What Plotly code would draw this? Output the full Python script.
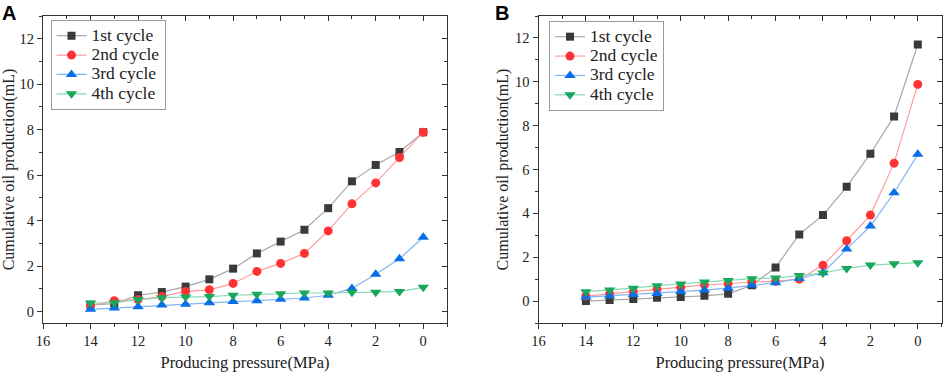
import plotly.graph_objects as go

pressure = [14, 13, 12, 11, 10, 9, 8, 7, 6, 5, 4, 3, 2, 1, 0]
series_names = ["1st cycle", "2nd cycle", "3rd cycle", "4th cycle"]

a_1st = [0.30, 0.35, 0.72, 0.86, 1.10, 1.42, 1.89, 2.56, 3.08, 3.60, 4.55, 5.73, 6.45, 7.02, 7.89]
a_2nd = [0.27, 0.48, 0.53, 0.66, 0.89, 0.96, 1.24, 1.77, 2.12, 2.56, 3.55, 4.74, 5.66, 6.78, 7.89]
a_3rd = [0.10, 0.16, 0.22, 0.29, 0.32, 0.39, 0.44, 0.48, 0.54, 0.60, 0.72, 1.02, 1.64, 2.32, 3.27]
a_4th = [0.38, 0.39, 0.53, 0.61, 0.64, 0.66, 0.72, 0.76, 0.79, 0.82, 0.82, 0.85, 0.85, 0.88, 1.07]

b_1st = [0.00, 0.05, 0.10, 0.15, 0.18, 0.24, 0.33, 0.72, 1.53, 3.04, 3.92, 5.21, 6.72, 8.42, 11.70]
b_2nd = [0.23, 0.33, 0.43, 0.55, 0.62, 0.74, 0.79, 0.87, 0.90, 1.00, 1.63, 2.75, 3.92, 6.29, 9.88]
b_3rd = [0.18, 0.24, 0.30, 0.35, 0.44, 0.50, 0.59, 0.73, 0.84, 1.03, 1.29, 2.37, 3.42, 4.94, 6.69]
b_4th = [0.43, 0.50, 0.59, 0.70, 0.78, 0.87, 0.94, 1.02, 1.05, 1.17, 1.28, 1.49, 1.64, 1.70, 1.75]

x_ticks = [16, 14, 12, 10, 8, 6, 4, 2, 0]
y_ticks = [0, 2, 4, 6, 8, 10, 12]

marker_colors = ["#3a3a3a", "#ff3333", "#0a6ee6", "#17a85c"]
line_colors = ["#a8a8a8", "#ff9d9d", "#80b4f0", "#86d9b4"]
symbols = ["square", "circle", "triangle-up", "triangle-down"]
sizes = [8, 9, 10, 10]

SERIF = "Liberation Serif, Times New Roman, serif"
AX = "#333333"

fig = go.Figure()

panels = [
    ([a_1st, a_2nd, a_3rd, a_4th], "x", "y", "legend"),
    ([b_1st, b_2nd, b_3rd, b_4th], "x2", "y2", "legend2"),
]
for data, xa, ya, lg in panels:
    for i, vals in enumerate(data):
        fig.add_trace(go.Scatter(
            x=pressure, y=vals,
            name="<span style='font-size:17.5px'>" + series_names[i] + "</span>",
            mode="lines+markers",
            line=dict(color=line_colors[i], width=1.2),
            marker=dict(symbol=symbols[i], size=sizes[i], color=marker_colors[i]),
            xaxis=xa, yaxis=ya, legend=lg,
        ))

# empty traces to host the mirrored (inside) tick axes
for xa, ya in [("x3", "y3"), ("x4", "y4")]:
    fig.add_trace(go.Scatter(x=[], y=[], xaxis=xa, yaxis=ya, showlegend=False, hoverinfo="skip"))

y_top = 1 - 16 / 372
y_bot = 1 - 323 / 372
domA = [43 / 943, 447 / 943]
domB = [538.5 / 943, 941.5 / 943]

def xax(dom, anchor):
    return dict(
        domain=dom, anchor=anchor, range=[16, -1], tickvals=x_ticks, automargin=False,
        ticks="outside", ticklen=5, tickwidth=1, tickcolor=AX,
        minor=dict(dtick=1, tick0=0, ticks="outside", ticklen=3, tickcolor=AX, tickwidth=1),
        showline=True, linecolor=AX, linewidth=1, showgrid=False, zeroline=False,
        tickfont=dict(family=SERIF, size=14.5, color="#222"),
        title=dict(text="Producing pressure(MPa)", font=dict(family=SERIF, size=16.5, color="#222"), standoff=8),
    )

def yax(rng, anchor):
    return dict(
        domain=[y_bot, y_top], anchor=anchor, range=rng, tickvals=y_ticks, automargin=False,
        ticks="outside", ticklen=5, tickwidth=1, tickcolor=AX,
        minor=dict(dtick=1, tick0=0, ticks="outside", ticklen=3, tickcolor=AX, tickwidth=1),
        showline=True, linecolor=AX, linewidth=1, showgrid=False, zeroline=False,
        tickfont=dict(family=SERIF, size=14.5, color="#222"),
        title=dict(text="Cumulative oil production(mL)", font=dict(family=SERIF, size=16, color="#222"), standoff=2),
    )

def mirror_x(over, anchor):
    return dict(
        overlaying=over, anchor=anchor, side="top", range=[16, -1], tickvals=x_ticks, automargin=False,
        ticks="inside", ticklen=5, tickwidth=1, tickcolor=AX, showticklabels=False,
        minor=dict(dtick=1, tick0=0, ticks="inside", ticklen=3, tickcolor=AX, tickwidth=1),
        showline=True, linecolor=AX, linewidth=1, showgrid=False, zeroline=False,
    )

def mirror_y(over, anchor, rng):
    return dict(
        overlaying=over, anchor=anchor, side="right", range=rng, tickvals=y_ticks, automargin=False,
        ticks="inside", ticklen=5, tickwidth=1, tickcolor=AX, showticklabels=False,
        minor=dict(dtick=1, tick0=0, ticks="inside", ticklen=3, tickcolor=AX, tickwidth=1),
        showline=True, linecolor=AX, linewidth=1, showgrid=False, zeroline=False,
    )

legend_style = dict(
    font=dict(family=SERIF, size=12.6, color="#222"),
    bgcolor="white", bordercolor="#9a9a9a", borderwidth=1,
    xanchor="left", yanchor="top", tracegroupgap=0,
)

fig.update_layout(
    width=943, height=372,
    margin=dict(l=0, r=0, t=0, b=0, autoexpand=False),
    plot_bgcolor="white", paper_bgcolor="white",
    showlegend=True,
    xaxis=xax(domA, "y"), yaxis=yax([-0.5, 13], "x"),
    xaxis2=xax(domB, "y2"), yaxis2=yax([-1, 13], "x2"),
    xaxis3=mirror_x("x", "y"), yaxis3=mirror_y("y", "x", [-0.5, 13]),
    xaxis4=mirror_x("x2", "y2"), yaxis4=mirror_y("y2", "x2", [-1, 13]),
    legend=dict(x=50.5 / 943, y=1 - 20 / 372, **legend_style),
    legend2=dict(x=549 / 943, y=1 - 21 / 372, **legend_style),
    annotations=[
        dict(text="<b>A</b>", x=0, y=1.0, xref="paper", yref="paper", xanchor="left", yanchor="top",
             showarrow=False, font=dict(family="Liberation Sans, Arial, sans-serif", size=20, color="black")),
        dict(text="<b>B</b>", x=493 / 943, y=1.0, xref="paper", yref="paper", xanchor="left", yanchor="top",
             showarrow=False, font=dict(family="Liberation Sans, Arial, sans-serif", size=20, color="black")),
    ],
)

fig.write_html(
    "out.html",
    config={"displayModeBar": False},
    post_script="document.body.style.margin='0';document.body.style.overflow='hidden';",
)
